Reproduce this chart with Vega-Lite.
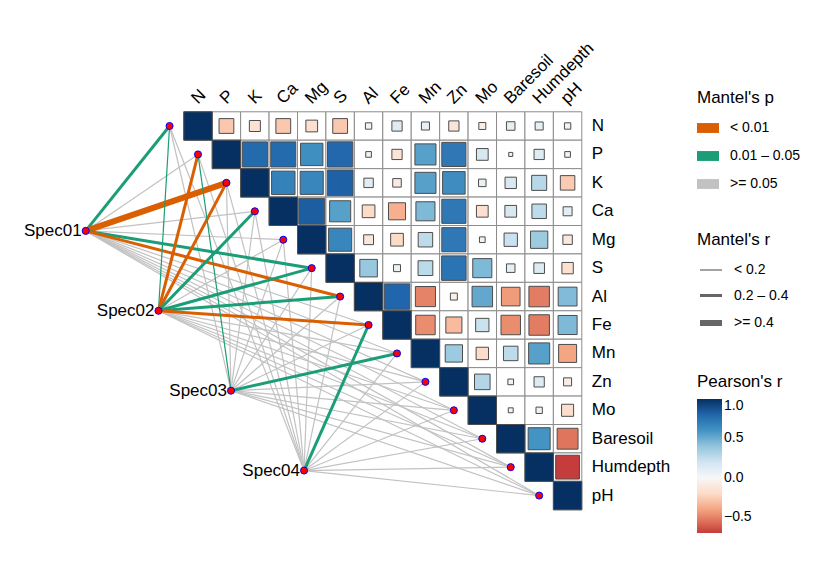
{
  "$schema": "https://vega.github.io/schema/vega-lite/v6.json",
  "width": 818,
  "height": 561,
  "autosize": {"type": "none"},
  "padding": 0,
  "background": "white",
  "config": {
    "view": {"stroke": null},
    "font": "Liberation Sans",
    "legend": {
      "titleFont": "Liberation Sans",
      "titleFontSize": 17,
      "titleFontWeight": "normal",
      "titleColor": "black",
      "labelFont": "Liberation Sans",
      "labelFontSize": 14,
      "labelColor": "black"
    }
  },
  "datasets": {
    "cells": [
      {"i":0,"j":0,"r":1},{"i":0,"j":1,"r":-0.27},{"i":0,"j":2,"r":-0.15},{"i":0,"j":3,"r":-0.27},{"i":0,"j":4,"r":-0.17},{"i":0,"j":5,"r":-0.27},{"i":0,"j":6,"r":-0.05},{"i":0,"j":7,"r":0.13},{"i":0,"j":8,"r":0.08},{"i":0,"j":9,"r":-0.13},{"i":0,"j":10,"r":-0.06},{"i":0,"j":11,"r":0.09},{"i":0,"j":12,"r":0.08},{"i":0,"j":13,"r":-0.05},
      {"i":1,"j":1,"r":1},{"i":1,"j":2,"r":0.78},{"i":1,"j":3,"r":0.78},{"i":1,"j":4,"r":0.62},{"i":1,"j":5,"r":0.79},{"i":1,"j":6,"r":0.04},{"i":1,"j":7,"r":-0.13},{"i":1,"j":8,"r":0.55},{"i":1,"j":9,"r":0.72},{"i":1,"j":10,"r":0.17},{"i":1,"j":11,"r":0.02},{"i":1,"j":12,"r":0.13},{"i":1,"j":13,"r":-0.04},
      {"i":2,"j":2,"r":1},{"i":2,"j":3,"r":0.68},{"i":2,"j":4,"r":0.66},{"i":2,"j":5,"r":0.82},{"i":2,"j":6,"r":0.11},{"i":2,"j":7,"r":-0.09},{"i":2,"j":8,"r":0.55},{"i":2,"j":9,"r":0.63},{"i":2,"j":10,"r":0.07},{"i":2,"j":11,"r":0.16},{"i":2,"j":12,"r":0.28},{"i":2,"j":13,"r":-0.26},
      {"i":3,"j":3,"r":1},{"i":3,"j":4,"r":0.83},{"i":3,"j":5,"r":0.55},{"i":3,"j":6,"r":-0.2},{"i":3,"j":7,"r":-0.36},{"i":3,"j":8,"r":0.45},{"i":3,"j":9,"r":0.72},{"i":3,"j":10,"r":-0.17},{"i":3,"j":11,"r":0.17},{"i":3,"j":12,"r":0.26},{"i":3,"j":13,"r":0.1},
      {"i":4,"j":4,"r":1},{"i":4,"j":5,"r":0.66},{"i":4,"j":6,"r":-0.12},{"i":4,"j":7,"r":-0.2},{"i":4,"j":8,"r":0.26},{"i":4,"j":9,"r":0.72},{"i":4,"j":10,"r":0.04},{"i":4,"j":11,"r":0.22},{"i":4,"j":12,"r":0.37},{"i":4,"j":13,"r":-0.11},
      {"i":5,"j":5,"r":1},{"i":5,"j":6,"r":0.38},{"i":5,"j":7,"r":0.06},{"i":5,"j":8,"r":0.27},{"i":5,"j":9,"r":0.74},{"i":5,"j":10,"r":0.45},{"i":5,"j":11,"r":0.09},{"i":5,"j":12,"r":0.14},{"i":5,"j":13,"r":-0.16},
      {"i":6,"j":6,"r":1},{"i":6,"j":7,"r":0.8},{"i":6,"j":8,"r":-0.5},{"i":6,"j":9,"r":-0.06},{"i":6,"j":10,"r":0.52},{"i":6,"j":11,"r":-0.43},{"i":6,"j":12,"r":-0.52},{"i":6,"j":13,"r":0.44},
      {"i":7,"j":7,"r":1},{"i":7,"j":8,"r":-0.47},{"i":7,"j":9,"r":-0.32},{"i":7,"j":10,"r":0.22},{"i":7,"j":11,"r":-0.47},{"i":7,"j":12,"r":-0.52},{"i":7,"j":13,"r":0.45},
      {"i":8,"j":8,"r":1},{"i":8,"j":9,"r":0.37},{"i":8,"j":10,"r":-0.19},{"i":8,"j":11,"r":0.26},{"i":8,"j":12,"r":0.55},{"i":8,"j":13,"r":-0.4},
      {"i":9,"j":9,"r":1},{"i":9,"j":10,"r":0.3},{"i":9,"j":11,"r":0.04},{"i":9,"j":12,"r":0.13},{"i":9,"j":13,"r":-0.08},
      {"i":10,"j":10,"r":1},{"i":10,"j":11,"r":0.03},{"i":10,"j":12,"r":0.05},{"i":10,"j":13,"r":-0.18},
      {"i":11,"j":11,"r":1},{"i":11,"j":12,"r":0.6},{"i":11,"j":13,"r":-0.54},
      {"i":12,"j":12,"r":1},{"i":12,"j":13,"r":-0.7},
      {"i":13,"j":13,"r":1}
    ],
    "envs": [
      {"env":"N","i":0},{"env":"P","i":1},{"env":"K","i":2},{"env":"Ca","i":3},{"env":"Mg","i":4},{"env":"S","i":5},{"env":"Al","i":6},
      {"env":"Fe","i":7},{"env":"Mn","i":8},{"env":"Zn","i":9},{"env":"Mo","i":10},{"env":"Baresoil","i":11},{"env":"Humdepth","i":12},{"env":"pH","i":13}
    ],
    "specs": [
      {"spec":"Spec01","sx":-3.95,"sy":3.69},
      {"spec":"Spec02","sx":-1.39,"sy":6.5},
      {"spec":"Spec03","sx":1.16,"sy":9.31},
      {"spec":"Spec04","sx":3.73,"sy":12.12}
    ],
    "links": [
      {"spec":"Spec01","env":"N","p":"0.01 – 0.05","r":"0.2 – 0.4"},
      {"spec":"Spec01","env":"P","p":">= 0.05","r":"< 0.2"},
      {"spec":"Spec01","env":"K","p":"< 0.01","r":">= 0.4"},
      {"spec":"Spec01","env":"Ca","p":">= 0.05","r":"< 0.2"},
      {"spec":"Spec01","env":"Mg","p":">= 0.05","r":"< 0.2"},
      {"spec":"Spec01","env":"S","p":"0.01 – 0.05","r":"0.2 – 0.4"},
      {"spec":"Spec01","env":"Al","p":"< 0.01","r":"0.2 – 0.4"},
      {"spec":"Spec01","env":"Fe","p":">= 0.05","r":"< 0.2"},
      {"spec":"Spec01","env":"Mn","p":">= 0.05","r":"< 0.2"},
      {"spec":"Spec01","env":"Zn","p":">= 0.05","r":"< 0.2"},
      {"spec":"Spec01","env":"Mo","p":">= 0.05","r":"< 0.2"},
      {"spec":"Spec01","env":"Baresoil","p":">= 0.05","r":"< 0.2"},
      {"spec":"Spec01","env":"Humdepth","p":">= 0.05","r":"< 0.2"},
      {"spec":"Spec01","env":"pH","p":">= 0.05","r":"< 0.2"},
      {"spec":"Spec02","env":"N","p":"0.01 – 0.05","r":"< 0.2"},
      {"spec":"Spec02","env":"P","p":"< 0.01","r":"0.2 – 0.4"},
      {"spec":"Spec02","env":"K","p":"< 0.01","r":"0.2 – 0.4"},
      {"spec":"Spec02","env":"Ca","p":"0.01 – 0.05","r":"0.2 – 0.4"},
      {"spec":"Spec02","env":"Mg","p":">= 0.05","r":"< 0.2"},
      {"spec":"Spec02","env":"S","p":"0.01 – 0.05","r":"0.2 – 0.4"},
      {"spec":"Spec02","env":"Al","p":"0.01 – 0.05","r":"0.2 – 0.4"},
      {"spec":"Spec02","env":"Fe","p":"< 0.01","r":"0.2 – 0.4"},
      {"spec":"Spec02","env":"Mn","p":">= 0.05","r":"< 0.2"},
      {"spec":"Spec02","env":"Zn","p":">= 0.05","r":"< 0.2"},
      {"spec":"Spec02","env":"Mo","p":">= 0.05","r":"< 0.2"},
      {"spec":"Spec02","env":"Baresoil","p":">= 0.05","r":"< 0.2"},
      {"spec":"Spec02","env":"Humdepth","p":">= 0.05","r":"< 0.2"},
      {"spec":"Spec02","env":"pH","p":">= 0.05","r":"< 0.2"},
      {"spec":"Spec03","env":"N","p":">= 0.05","r":"< 0.2"},
      {"spec":"Spec03","env":"P","p":"0.01 – 0.05","r":"< 0.2"},
      {"spec":"Spec03","env":"K","p":">= 0.05","r":"< 0.2"},
      {"spec":"Spec03","env":"Ca","p":">= 0.05","r":"< 0.2"},
      {"spec":"Spec03","env":"Mg","p":">= 0.05","r":"< 0.2"},
      {"spec":"Spec03","env":"S","p":">= 0.05","r":"< 0.2"},
      {"spec":"Spec03","env":"Al","p":">= 0.05","r":"< 0.2"},
      {"spec":"Spec03","env":"Fe","p":">= 0.05","r":"< 0.2"},
      {"spec":"Spec03","env":"Mn","p":"0.01 – 0.05","r":"0.2 – 0.4"},
      {"spec":"Spec03","env":"Zn","p":">= 0.05","r":"< 0.2"},
      {"spec":"Spec03","env":"Mo","p":">= 0.05","r":"< 0.2"},
      {"spec":"Spec03","env":"Baresoil","p":">= 0.05","r":"< 0.2"},
      {"spec":"Spec03","env":"Humdepth","p":">= 0.05","r":"< 0.2"},
      {"spec":"Spec03","env":"pH","p":">= 0.05","r":"< 0.2"},
      {"spec":"Spec04","env":"N","p":">= 0.05","r":"< 0.2"},
      {"spec":"Spec04","env":"P","p":">= 0.05","r":"< 0.2"},
      {"spec":"Spec04","env":"K","p":">= 0.05","r":"< 0.2"},
      {"spec":"Spec04","env":"Ca","p":">= 0.05","r":"< 0.2"},
      {"spec":"Spec04","env":"Mg","p":">= 0.05","r":"< 0.2"},
      {"spec":"Spec04","env":"S","p":">= 0.05","r":"< 0.2"},
      {"spec":"Spec04","env":"Al","p":">= 0.05","r":"< 0.2"},
      {"spec":"Spec04","env":"Fe","p":"0.01 – 0.05","r":"0.2 – 0.4"},
      {"spec":"Spec04","env":"Mn","p":">= 0.05","r":"< 0.2"},
      {"spec":"Spec04","env":"Zn","p":">= 0.05","r":"< 0.2"},
      {"spec":"Spec04","env":"Mo","p":">= 0.05","r":"< 0.2"},
      {"spec":"Spec04","env":"Baresoil","p":">= 0.05","r":"< 0.2"},
      {"spec":"Spec04","env":"Humdepth","p":">= 0.05","r":"< 0.2"},
      {"spec":"Spec04","env":"pH","p":">= 0.05","r":"< 0.2"}
    ]
  },
  "layer": [
    {
      "data": {"name": "cells"},
      "mark": {"type": "square", "size": 808, "filled": true, "fill": "white", "stroke": "#8c8c8c", "strokeWidth": 1, "opacity": 1},
      "encoding": {
        "x": {"field": "j", "type": "quantitative", "axis": null, "scale": {"domain": [-6.9645, 21.808], "nice": false, "zero": false}},
        "y": {"field": "i", "type": "quantitative", "axis": null, "scale": {"domain": [-4.432, 15.301], "nice": false, "zero": false, "reverse": true}}
      }
    },
    {
      "data": {"name": "cells"},
      "mark": {"type": "square", "filled": true, "stroke": "#4d4d4d", "strokeWidth": 1, "opacity": 1},
      "encoding": {
        "x": {"field": "j", "type": "quantitative", "axis": null},
        "y": {"field": "i", "type": "quantitative", "axis": null},
        "size": {"field": "r", "type": "quantitative", "legend": null, "scale": {"type": "linear", "domain": [-1, 0, 1], "range": [808, 0, 808]}},
        "fill": {
          "field": "r", "type": "quantitative",
          "scale": {
            "type": "linear",
            "domain": [-0.7, -0.6, -0.4, -0.2, 0, 0.2, 0.4, 0.6, 0.8, 1],
            "range": ["#c43c3c", "#d6604d", "#f4a582", "#fddbc7", "#f7f7f7", "#d1e5f0", "#92c5de", "#4393c3", "#2166ac", "#053061"],
            "interpolate": "rgb"
          },
          "legend": {
            "title": "Pearson's r", "orient": "none", "legendX": 697, "legendY": 374,
            "direction": "vertical", "gradientLength": 134, "gradientThickness": 25,
            "values": [-0.5, 0, 0.5, 1], "format": ".1f", "gradientStrokeWidth": 0, "titlePadding": 8
          }
        }
      }
    },
    {
      "data": {"name": "links"},
      "transform": [
        {"filter": "datum.p === '>= 0.05'"},
        {"lookup": "spec", "from": {"data": {"name": "specs"}, "key": "spec", "fields": ["sx", "sy"]}},
        {"lookup": "env", "from": {"data": {"name": "envs"}, "key": "env", "fields": ["i"]}},
        {"calculate": "datum.i - 1", "as": "ex"}
      ],
      "mark": {"type": "rule"},
      "encoding": {
        "x": {"field": "sx", "type": "quantitative", "axis": null},
        "y": {"field": "sy", "type": "quantitative", "axis": null},
        "x2": {"field": "ex"},
        "y2": {"field": "i"},
        "stroke": {
          "field": "p", "type": "nominal",
          "scale": {"domain": ["< 0.01", "0.01 – 0.05", ">= 0.05"], "range": ["#d95f02", "#1b9e77", "#c2c2c2"]},
          "legend": {
            "title": "Mantel's p", "orient": "none", "legendX": 697, "legendY": 90,
            "symbolType": "M-1,-0.45H1V0.45H-1Z", "symbolSize": 484, "symbolStrokeWidth": 0,
            "labelOffset": 11, "rowPadding": 10, "titlePadding": 10,
            "encode": {"symbols": {"update": {"fill": {"scale": "stroke", "field": "value"}, "strokeWidth": {"value": 0}}}}
          }
        },
        "strokeWidth": {
          "field": "r", "type": "ordinal",
          "scale": {"type": "ordinal", "domain": ["< 0.2", "0.2 – 0.4", ">= 0.4"], "range": [1.2, 3, 6]},
          "legend": {
            "title": "Mantel's r", "orient": "none", "legendX": 697, "legendY": 232,
            "symbolType": "stroke", "symbolSize": 484, "symbolStrokeColor": "#666666", "labelOffset": 9, "rowPadding": 6, "titlePadding": 9
          }
        }
      }
    },
    {
      "data": {"name": "links"},
      "transform": [
        {"filter": "datum.p !== '>= 0.05'"},
        {"lookup": "spec", "from": {"data": {"name": "specs"}, "key": "spec", "fields": ["sx", "sy"]}},
        {"lookup": "env", "from": {"data": {"name": "envs"}, "key": "env", "fields": ["i"]}},
        {"calculate": "datum.i - 1", "as": "ex"}
      ],
      "mark": {"type": "rule"},
      "encoding": {
        "x": {"field": "sx", "type": "quantitative", "axis": null},
        "y": {"field": "sy", "type": "quantitative", "axis": null},
        "x2": {"field": "ex"},
        "y2": {"field": "i"},
        "stroke": {"field": "p", "type": "nominal", "scale": {"domain": ["< 0.01", "0.01 – 0.05", ">= 0.05"], "range": ["#d95f02", "#1b9e77", "#c2c2c2"]}},
        "strokeWidth": {"field": "r", "type": "ordinal", "scale": {"type": "ordinal", "domain": ["< 0.2", "0.2 – 0.4", ">= 0.4"], "range": [1.2, 3, 6]}}
      }
    },
    {
      "data": {"name": "envs"},
      "transform": [{"calculate": "datum.i - 1", "as": "ex"}],
      "mark": {"type": "point", "shape": "circle", "filled": true, "fill": "#ff0000", "stroke": "#0000ff", "strokeWidth": 1, "size": 50, "opacity": 1},
      "encoding": {
        "x": {"field": "ex", "type": "quantitative", "axis": null},
        "y": {"field": "i", "type": "quantitative", "axis": null}
      }
    },
    {
      "data": {"name": "specs"},
      "mark": {"type": "point", "shape": "circle", "filled": true, "fill": "#ff0000", "stroke": "#0000ff", "strokeWidth": 1, "size": 50, "opacity": 1},
      "encoding": {
        "x": {"field": "sx", "type": "quantitative", "axis": null},
        "y": {"field": "sy", "type": "quantitative", "axis": null}
      }
    },
    {
      "data": {"name": "specs"},
      "mark": {"type": "text", "align": "right", "baseline": "middle", "dx": -4, "fontSize": 17, "font": "Liberation Sans", "color": "black"},
      "encoding": {
        "x": {"field": "sx", "type": "quantitative", "axis": null},
        "y": {"field": "sy", "type": "quantitative", "axis": null},
        "text": {"field": "spec"}
      }
    },
    {
      "data": {"name": "envs"},
      "mark": {"type": "text", "align": "left", "baseline": "middle", "dx": 10, "fontSize": 17, "font": "Liberation Sans", "color": "black"},
      "encoding": {
        "x": {"datum": 13.5, "type": "quantitative", "axis": null},
        "y": {"field": "i", "type": "quantitative", "axis": null},
        "text": {"field": "env"}
      }
    },
    {
      "data": {"name": "envs"},
      "mark": {"type": "text", "align": "left", "baseline": "alphabetic", "angle": 315, "fontSize": 17, "font": "Liberation Sans", "color": "black"},
      "encoding": {
        "x": {"field": "i", "type": "quantitative", "axis": null},
        "y": {"datum": -0.75, "type": "quantitative", "axis": null},
        "text": {"field": "env"}
      }
    }
  ]
}
